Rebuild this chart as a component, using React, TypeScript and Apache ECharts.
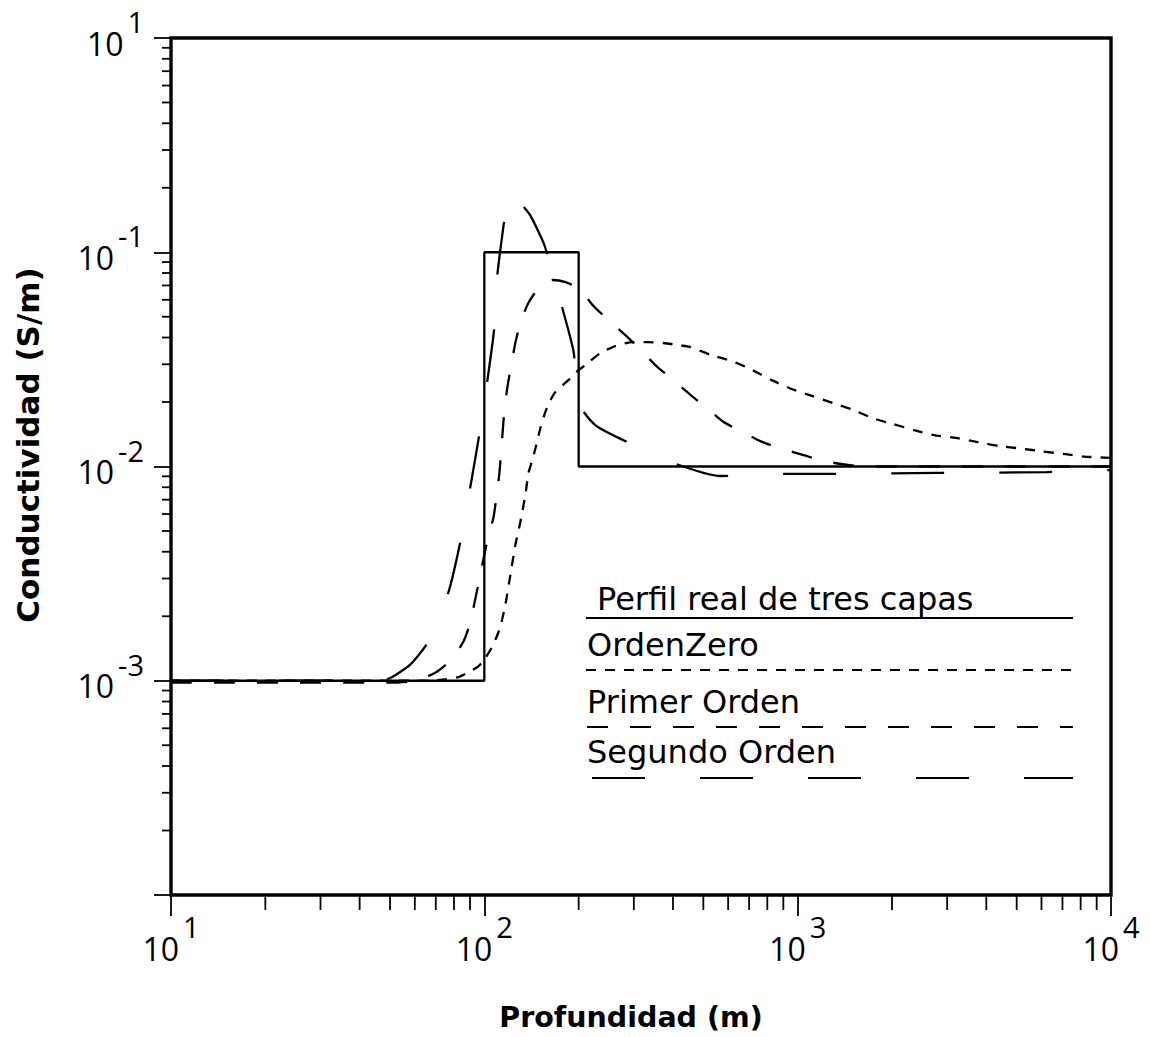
import React, { useEffect, useRef } from "react";
import * as echarts from "echarts";

// Three-layer conductivity profile and its zero/first/second order approximations
const stepDepth = [10, 100, 100, 200, 200, 10000];
const stepConductivity = [0.001, 0.001, 0.1, 0.1, 0.01, 0.01];

const zeroDepth = [10, 62.4, 72.3, 82.6, 88.3, 95.1, 98.6, 104.5, 108.4, 112.4, 116.7, 121.1, 125.6, 130.3, 135.2, 138.3, 142.3, 146.5, 151, 156.6, 162.5, 168.6, 175, 185.4, 196.7, 210.4, 235, 262.5, 297.4, 332, 373, 414, 455, 527, 615, 718, 826, 957, 1117, 1294, 1499, 1738, 2013, 2350, 2720, 3197, 3758, 4387, 5155, 6063, 7079, 8204, 10000];
const zeroConductivity = [0.001, 0.001, 0.00101, 0.00104, 0.00109, 0.00116, 0.00122, 0.00139, 0.00155, 0.00178, 0.00226, 0.00312, 0.0043, 0.00551, 0.00736, 0.00933, 0.01072, 0.01259, 0.01513, 0.01797, 0.0204, 0.0223, 0.0235, 0.0253, 0.0276, 0.0298, 0.0339, 0.0365, 0.0381, 0.0381, 0.0377, 0.0369, 0.0361, 0.0332, 0.0311, 0.0282, 0.0253, 0.023, 0.0213, 0.0198, 0.0184, 0.0168, 0.0158, 0.0148, 0.014, 0.0136, 0.013, 0.01246, 0.01213, 0.01175, 0.01144, 0.01113, 0.01096];

const firstDepth = [10, 50, 60.3, 69.7, 77.8, 85.7, 90.2, 96.3, 102.3, 107, 111.7, 115.9, 118.5, 121.9, 125.6, 130.3, 138.2, 151, 165, 181.5, 201.3, 223, 250.6, 284.3, 315, 357, 401.5, 455, 512, 580, 667, 773, 895, 1045, 1210, 1625, 10000];
const firstConductivity = [0.00098, 0.00098, 0.001, 0.00109, 0.00124, 0.00152, 0.00188, 0.00295, 0.00454, 0.00581, 0.00933, 0.01836, 0.0235, 0.0298, 0.0377, 0.0468, 0.058, 0.0696, 0.0742, 0.0726, 0.0674, 0.0561, 0.0478, 0.0406, 0.035, 0.0291, 0.0253, 0.0216, 0.01876, 0.01614, 0.01449, 0.013, 0.01207, 0.0113, 0.0106, 0.01, 0.01];

const secondDepth = [10, 45, 50.1, 58, 65.8, 76.7, 83.8, 90.2, 96.3, 102.3, 107.7, 110.2, 115.9, 118.5, 121.9, 125.6, 128.5, 140, 155.5, 173.8, 192.5, 201.3, 226, 268, 393, 567, 857, 1265, 2800, 6250, 10000];
const secondConductivity = [0.001, 0.001, 0.00103, 0.00119, 0.0015, 0.00257, 0.00444, 0.00802, 0.014, 0.0253, 0.0448, 0.08, 0.143, 0.179, 0.195, 0.19, 0.175, 0.149, 0.108, 0.0611, 0.0346, 0.0194, 0.0156, 0.0136, 0.0105, 0.00903, 0.00923, 0.00923, 0.00933, 0.00942, 0.00963];

// Axis ticks and their labels (base 10 with the printed exponent)
const xTickValues = [10, 100, 1000, 10000];
const xTickExponents = ["1", "2", "3", "4"];
const yTickValues = [1, 0.1, 0.01, 0.001, 0.0001];
const yTickExponents = ["1", "-1", "-2", "-3", ""];
const minorMantissas = [2, 3, 4, 5, 6, 7, 8, 9];
const xDecades = [10, 100, 1000];
const yDecades = [0.0001, 0.001, 0.01, 0.1];

const legendLabels = ["Perfil real de tres capas", "OrdenZero", "Primer Orden", "Segundo Orden"];
const xTitle = "Profundidad (m)";
const yTitle = "Conductividad (S/m)";

const X_MIN = 10;
const X_MAX = 10000;
const Y_MIN = 0.0001;
const Y_MAX = 1;

const pairs = (xs: number[], ys: number[]) => xs.map((x, i) => [x, ys[i]]);

const exponentFor = (values: number[], labels: string[], v: number): string => {
  const i = values.findIndex((t) => Math.abs(Math.log10(t) - Math.log10(v)) < 1e-6);
  return i >= 0 ? labels[i] : "";
};

const minorTicks = (decades: number[]) => {
  const out: number[] = [];
  decades.forEach((d) => minorMantissas.forEach((m) => out.push(m * d)));
  return out;
};

const LABEL_FONT = "Open Sans";
const TEXT_FONT = "DejaVu Sans";

// "10" sits about 20px lower than the raised exponent
const powerRich = {
  b: { fontFamily: LABEL_FONT, fontSize: 32, color: "#000", verticalAlign: "top", padding: [20, 0, 0, 0] },
  s: { fontFamily: LABEL_FONT, fontSize: 29, color: "#000", verticalAlign: "top", padding: [0, 0, 0, 4] },
};

export default function App() {
  const ref = useRef<HTMLDivElement>(null);

  useEffect(() => {
    if (!ref.current) return;
    const chart = echarts.init(ref.current, undefined, { renderer: "svg" });

    const lineBase = {
      type: "line",
      showSymbol: false,
      symbol: "none",
      smooth: 0.2,
      silent: true,
      z: 3,
    };

    const option: any = {
      animation: false,
      backgroundColor: "#fff",
      grid: {
        left: 171,
        right: 39,
        top: 38,
        bottom: 142,
        show: true,
        borderColor: "#000",
        borderWidth: 3.4,
        backgroundColor: "transparent",
      },
      xAxis: {
        type: "log",
        logBase: 10,
        min: X_MIN,
        max: X_MAX,
        axisLine: { show: false },
        splitLine: { show: false },
        axisTick: { show: true, length: 21, lineStyle: { color: "#000", width: 1.8 } },
        axisLabel: {
          margin: 17,
          fontFamily: LABEL_FONT,
          fontSize: 32,
          color: "#000",
          showMinLabel: true,
          showMaxLabel: true,
          formatter: (v: number) => {
            const e = exponentFor(xTickValues, xTickExponents, v);
            return e ? `{b|10}{s|${e}}` : "";
          },
          rich: powerRich,
        },
      },
      yAxis: {
        type: "log",
        logBase: 10,
        min: Y_MIN,
        max: Y_MAX,
        axisLine: { show: false },
        splitLine: { show: false },
        axisTick: { show: true, length: 17, lineStyle: { color: "#000", width: 1.8 } },
        axisLabel: {
          margin: 27,
          padding: [0, 0, 10, 0],
          fontFamily: LABEL_FONT,
          fontSize: 32,
          color: "#000",
          showMinLabel: true,
          showMaxLabel: true,
          formatter: (v: number) => {
            const e = exponentFor(yTickValues, yTickExponents, v);
            return e ? `{b|10}{s|${e}}` : "";
          },
          rich: powerRich,
        },
      },
      series: [
        {
          ...lineBase,
          name: legendLabels[0],
          smooth: false,
          data: pairs(stepDepth, stepConductivity),
          lineStyle: { color: "#000", width: 2.3, type: "solid" },
        },
        {
          ...lineBase,
          name: legendLabels[1],
          data: pairs(zeroDepth, zeroConductivity),
          lineStyle: { color: "#000", width: 2.3, type: [10, 9], cap: "butt" },
        },
        {
          ...lineBase,
          name: legendLabels[2],
          data: pairs(firstDepth, firstConductivity),
          lineStyle: { color: "#000", width: 2.3, type: [21, 22], cap: "butt" },
        },
        {
          ...lineBase,
          name: legendLabels[3],
          data: pairs(secondDepth, secondConductivity),
          lineStyle: { color: "#000", width: 2.3, type: [53, 55], cap: "butt" },
        },
        // minor log ticks under the depth axis
        {
          type: "custom",
          coordinateSystem: "cartesian2d",
          silent: true,
          clip: false,
          data: minorTicks(xDecades).map((v) => [v, Y_MIN]),
          renderItem: (_p: any, api: any) => {
            const pt = api.coord([api.value(0), api.value(1)]);
            return {
              type: "line",
              shape: { x1: pt[0], y1: pt[1], x2: pt[0], y2: pt[1] + 15 },
              style: { stroke: "#000", lineWidth: 1.8 },
            };
          },
        },
        // minor log ticks left of the conductivity axis
        {
          type: "custom",
          coordinateSystem: "cartesian2d",
          silent: true,
          clip: false,
          data: minorTicks(yDecades).map((v) => [X_MIN, v]),
          renderItem: (_p: any, api: any) => {
            const pt = api.coord([api.value(0), api.value(1)]);
            return {
              type: "line",
              shape: { x1: pt[0] - 9, y1: pt[1], x2: pt[0], y2: pt[1] },
              style: { stroke: "#000", lineWidth: 1.8 },
            };
          },
        },
      ],
      graphic: [
        {
          type: "text",
          x: 631,
          y: 1017,
          style: { text: xTitle, fontFamily: TEXT_FONT, fontWeight: "bold", fontSize: 28.5, fill: "#000", align: "center", verticalAlign: "middle" },
        },
        {
          type: "text",
          x: 28,
          y: 445,
          rotation: Math.PI / 2,
          style: { text: yTitle, fontFamily: TEXT_FONT, fontWeight: "bold", fontSize: 31, fill: "#000", align: "center", verticalAlign: "middle" },
        },
        // legend block
        { type: "text", x: 597, y: 599, style: { text: legendLabels[0], fontFamily: TEXT_FONT, fontSize: 32, fill: "#000", verticalAlign: "middle" } },
        { type: "line", shape: { x1: 586, y1: 618, x2: 1073, y2: 618 }, style: { stroke: "#000", lineWidth: 2.2 } },
        { type: "text", x: 587, y: 645, style: { text: legendLabels[1], fontFamily: TEXT_FONT, fontSize: 32, fill: "#000", verticalAlign: "middle" } },
        { type: "line", shape: { x1: 586, y1: 670, x2: 1073, y2: 670 }, style: { stroke: "#000", lineWidth: 2.2, lineDash: [10, 9] } },
        { type: "text", x: 587, y: 702, style: { text: legendLabels[2], fontFamily: TEXT_FONT, fontSize: 32, fill: "#000", verticalAlign: "middle" } },
        { type: "line", shape: { x1: 587, y1: 727, x2: 1073, y2: 727 }, style: { stroke: "#000", lineWidth: 2.2, lineDash: [21, 22] } },
        { type: "text", x: 587, y: 752, style: { text: legendLabels[3], fontFamily: TEXT_FONT, fontSize: 32, fill: "#000", verticalAlign: "middle" } },
        { type: "line", shape: { x1: 592, y1: 778, x2: 1073, y2: 778 }, style: { stroke: "#000", lineWidth: 2.2, lineDash: [53, 55] } },
      ],
    };

    chart.setOption(option);
    return () => chart.dispose();
  }, []);

  return (
    <div
      ref={ref}
      style={{ position: "absolute", left: 0, top: 0, width: 1150, height: 1037, background: "#fff" }}
    />
  );
}
